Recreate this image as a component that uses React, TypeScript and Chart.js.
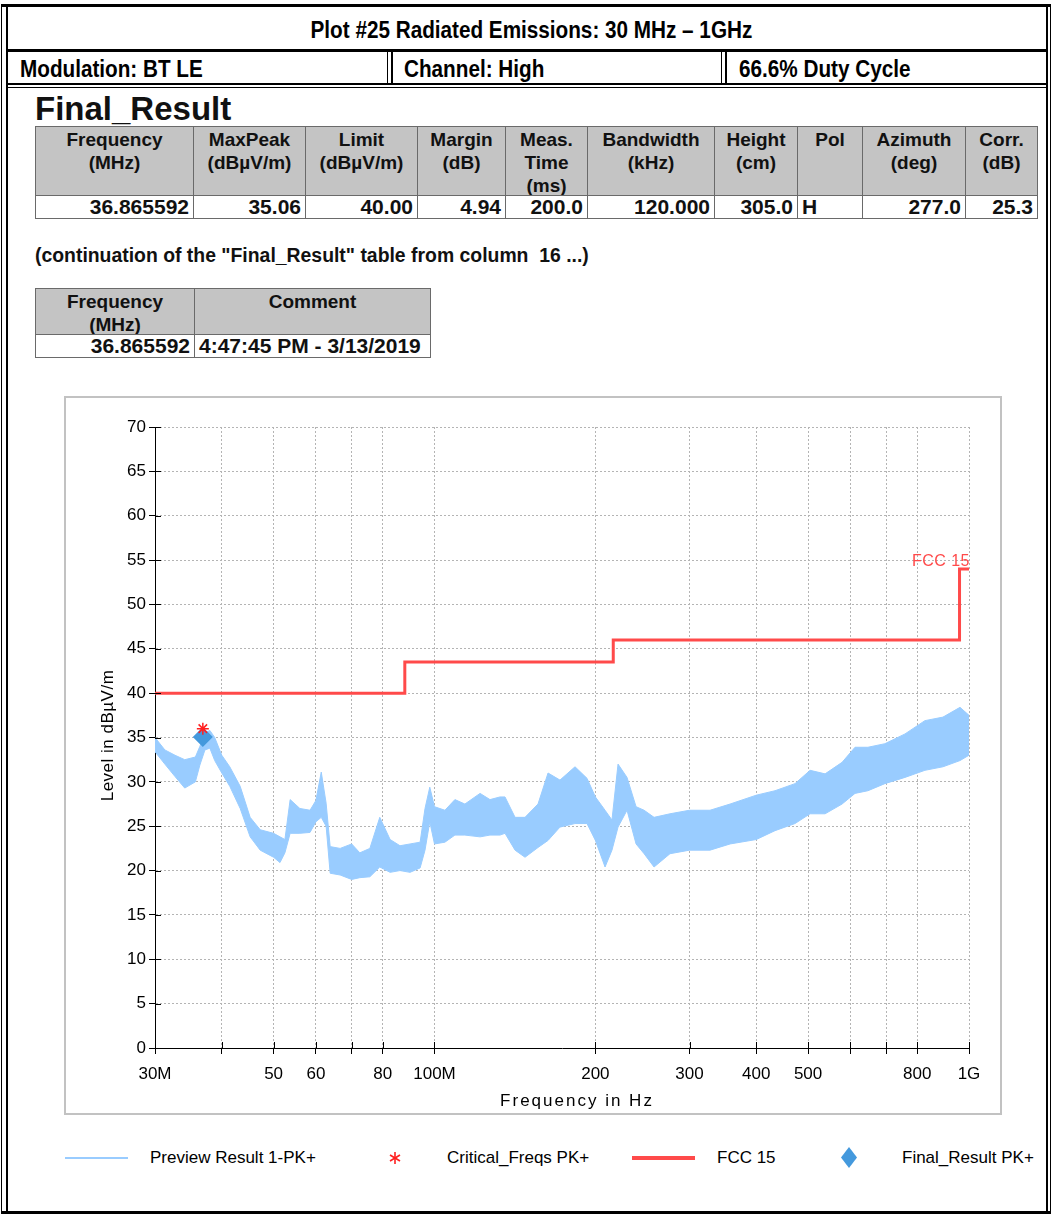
import React, { useEffect, useRef } from 'react';
import { Chart, registerables } from 'chart.js';

Chart.register(...registerables);

// ---------------- data ----------------
const previewFreqMHz = [
  30.0, 31.3, 32.7, 34.1, 35.7, 36.4, 37.2, 38.0, 38.8, 40.0, 41.4, 43.3, 45.2, 47.2, 50.0, 51.4, 52.5,
  53.7, 56.0, 58.5, 60.0, 61.4, 62.7, 63.8, 66.6, 70.0, 72.5, 75.7, 79.0, 82.6, 86.2, 90.0, 94.0, 96.0,
  98.0, 100.0, 104.6, 109.2, 114.0, 121.7, 127.0, 132.6, 135.5, 141.5, 147.7, 156.2, 163.1, 171.7,
  183.2, 192.9, 200.0, 208.5, 214.8, 220.5, 229.2, 238.3, 246.7, 257.5, 275.8, 300.0, 327.7, 357.3,
  400.0, 433.6, 472.6, 504.3, 538.0, 578.8, 612.0, 647.0, 696.0, 759.0, 827.0, 894.0, 962.0, 1000.0,
];
const previewHigh = [
  35.0, 33.6, 33.0, 32.5, 32.8, 34.0, 35.5, 35.8, 35.0, 33.0, 31.7, 29.5, 26.0, 24.6, 24.2, 23.8, 23.5,
  28.0, 27.0, 26.8, 27.9, 31.1, 27.6, 22.7, 22.5, 23.0, 22.0, 22.5, 26.0, 23.5, 22.8, 23.0, 23.2, 27.0,
  29.4, 27.2, 26.8, 28.0, 27.5, 28.7, 28.0, 28.3, 28.3, 26.0, 26.0, 27.5, 31.0, 30.2,
  31.7, 30.4, 28.3, 26.8, 25.7, 32.0, 30.5, 27.2, 26.8, 26.0, 26.4, 26.8, 26.8, 27.5,
  28.5, 29.0, 29.8, 31.3, 30.9, 32.2, 33.9, 33.9, 34.3, 35.4, 36.9, 37.3, 38.4, 37.5,
];
const previewLow = [
  33.4, 32.0, 30.6, 29.3, 30.0, 31.9, 33.6, 33.8, 32.4, 31.0, 29.5, 27.0, 23.8, 22.3, 21.5, 20.9, 22.0,
  24.2, 24.2, 24.3, 25.5, 26.0, 25.0, 19.7, 19.5, 19.0, 19.2, 19.3, 20.4, 19.8, 20.0, 19.8, 20.3, 22.3,
  25.5, 23.0, 23.2, 24.0, 24.0, 23.8, 24.0, 24.0, 24.2, 22.3, 21.5, 22.6, 23.4, 24.9,
  25.3, 25.3, 23.4, 20.4, 22.3, 24.9, 26.8, 23.0, 21.9, 20.4, 21.9, 22.3, 22.3, 23.0,
  23.5, 24.5, 25.3, 26.4, 26.4, 27.5, 28.7, 29.0, 29.8, 30.5, 31.3, 31.7, 32.4, 33.0,
];
const limitFreqMHz = [30, 88, 216, 960, 1000];
const limitLevel = [40, 43.5, 46, 54, 54];
const criticalFreqMHz = [36.865592];
const criticalLevel = [36.0];
const finalFreqMHz = [36.865592];
const finalLevel = [35.06];

const xTickMHz = [30, 40, 50, 60, 70, 80, 100, 200, 300, 400, 500, 600, 700, 800, 1000];
const xTickLabels = ['30M', '', '50', '60', '', '80', '100M', '200', '300', '400', '500', '', '', '800', '1G'];
const yMin = 0;
const yMax = 70;
const yStep = 2.5;
const yLabelEvery = 5;

const titleText = 'Plot #25 Radiated Emissions: 30 MHz \u2013 1GHz';
const infoTexts = ['Modulation: BT LE', 'Channel: High', '66.6% Duty Cycle'];
const table1Headers = ['Frequency\n(MHz)', 'MaxPeak\n(dB\u00b5V/m)', 'Limit\n(dB\u00b5V/m)', 'Margin\n(dB)', 'Meas.\nTime\n(ms)', 'Bandwidth\n(kHz)', 'Height\n(cm)', 'Pol', 'Azimuth\n(deg)', 'Corr.\n(dB)'];
const table1Row = ['36.865592', '35.06', '40.00', '4.94', '200.0', '120.000', '305.0', 'H', '277.0', '25.3'];
const table2Headers = ['Frequency\n(MHz)', 'Comment'];
const table2Row = ['36.865592', '4:47:45 PM - 3/13/2019'];
const xTitle = 'Frequency in Hz';
const yTitle = 'Level in dB\u00b5V/m';
const limitName = 'FCC 15';
const legendNames = ['Preview Result 1-PK+', 'Critical_Freqs PK+', 'FCC 15', 'Final_Result PK+'];

// ---------------- styles ----------------
const PREVIEW = '#99ccff';
const LIMIT = '#ff4a4a';
const FINAL = '#4499dd';
const CRIT = '#ff2020';
const TICK_FONT = "'Liberation Sans', Arial, sans-serif";
const SANS = "'Liberation Sans', Arial, sans-serif";

const CW = 935;
const CH = 716;

function ChartBox() {
  const ref = useRef<HTMLCanvasElement | null>(null);
  useEffect(() => {
    if (!ref.current) return;
    const decor = {
      id: 'decor',
      afterDraw(chart: any) {
        const { ctx, chartArea } = chart;
        const x = chart.scales.x;
        const y = chart.scales.y;
        ctx.save();
        ctx.strokeStyle = '#000';
        ctx.lineWidth = 1;
        ctx.beginPath();
        y.ticks.forEach((t: any) => {
          const py = Math.round(y.getPixelForValue(t.value)) + 0.5;
          ctx.moveTo(chartArea.left, py);
          ctx.lineTo(chartArea.left + 6, py);
        });
        x.ticks.forEach((t: any) => {
          const px = Math.round(x.getPixelForValue(t.value)) + 0.5;
          ctx.moveTo(px, chartArea.bottom);
          ctx.lineTo(px, chartArea.bottom - 6);
        });
        ctx.stroke();
        // limit label
        ctx.fillStyle = LIMIT;
        ctx.font = `16px ${TICK_FONT}`;
        ctx.textAlign = 'right';
        ctx.textBaseline = 'alphabetic';
        (ctx as any).letterSpacing = '0.5px';
        const lx = x.getPixelForValue(limitFreqMHz[limitFreqMHz.length - 1] * 1e6) + 1;
        const ly = y.getPixelForValue(limitLevel[limitLevel.length - 1]) - 3;
        ctx.fillText(limitName, lx, ly);
        // axis titles
        ctx.fillStyle = '#000';
        ctx.font = `17px ${TICK_FONT}`;
        ctx.textAlign = 'center';
        ctx.textBaseline = 'middle';
        (ctx as any).letterSpacing = '2px';
        ctx.fillText(xTitle, (chartArea.left + chartArea.right) / 2 + 15, chartArea.bottom + 53);
        (ctx as any).letterSpacing = '0.5px';
        ctx.translate(43, (chartArea.top + chartArea.bottom) / 2 - 2);
        ctx.rotate(-Math.PI / 2);
        ctx.fillText(yTitle, 0, 0);
        ctx.restore();
      },
    };
    const chart = new Chart(ref.current, {
      type: 'line',
      data: {
        datasets: [
          {
            label: 'Preview upper',
            data: previewFreqMHz.map((f, i) => ({ x: f * 1e6, y: previewHigh[i] })),
            borderColor: PREVIEW,
            borderWidth: 1,
            pointRadius: 0,
            fill: false,
            order: 3,
          },
          {
            label: legendNames[0],
            data: previewFreqMHz.map((f, i) => ({ x: f * 1e6, y: previewLow[i] })),
            borderColor: PREVIEW,
            backgroundColor: PREVIEW,
            borderWidth: 1,
            pointRadius: 0,
            fill: '-1',
            order: 3,
          },
          {
            label: legendNames[2],
            data: limitFreqMHz.map((f, i) => ({ x: f * 1e6, y: limitLevel[i] })),
            borderColor: LIMIT,
            borderWidth: 3,
            pointRadius: 0,
            stepped: 'before',
            fill: false,
            order: 2,
          },
          {
            label: legendNames[3],
            data: finalFreqMHz.map((f, i) => ({ x: f * 1e6, y: finalLevel[i] })),
            showLine: false,
            pointStyle: 'rectRot',
            pointRadius: 10,
            backgroundColor: FINAL,
            borderColor: FINAL,
            borderWidth: 0,
            order: 1,
          },
          {
            label: legendNames[1],
            data: criticalFreqMHz.map((f, i) => ({ x: f * 1e6, y: criticalLevel[i] })),
            showLine: false,
            pointStyle: 'star',
            pointRadius: 6,
            borderColor: CRIT,
            backgroundColor: CRIT,
            borderWidth: 1.5,
            order: 0,
          },
        ] as any,
      },
      options: {
        animation: false,
        responsive: false,
        events: [],
        layout: { padding: { left: 0, right: 31, top: 30, bottom: 0 } },
        plugins: { legend: { display: false }, tooltip: { enabled: false }, title: { display: false } },
        scales: {
          x: {
            type: 'logarithmic',
            min: 30e6,
            max: 1e9,
            afterBuildTicks: (s: any) => {
              s.ticks = xTickMHz.map((v) => ({ value: v * 1e6 }));
            },
            afterFit: (s: any) => {
              s.height = 65;
            },
            ticks: {
              autoSkip: false,
              maxRotation: 0,
              minRotation: 0,
              color: '#000',
              padding: 10,
              font: { family: TICK_FONT, size: 17 },
              callback: (_v: any, i: number) => xTickLabels[i],
            },
            grid: { color: '#b4b4b4', lineWidth: 1, tickColor: '#000', tickLength: 6, drawTicks: true },
            border: { display: true, color: '#000', width: 1, dash: [2, 2] },
          },
          y: {
            type: 'linear',
            min: yMin,
            max: yMax,
            afterFit: (s: any) => {
              s.width = 90;
            },
            ticks: {
              stepSize: yStep,
              color: '#000',
              padding: 3,
              font: { family: TICK_FONT, size: 17 },
              callback: (v: any) => (Number(v) % yLabelEvery === 0 ? String(v) : ''),
            },
            grid: { color: '#b4b4b4', lineWidth: 1, tickColor: '#000', tickLength: 6, drawTicks: true },
            border: { display: true, color: '#000', width: 1, dash: [2, 2] },
          },
        },
      } as any,
      plugins: [decor],
    });
    return () => chart.destroy();
  }, []);
  return <canvas ref={ref} width={CW} height={CH} style={{ position: 'absolute', left: 65, top: 397, width: CW, height: CH }} />;
}

const line = (l: number, t: number, w: number, h: number) => (
  <div style={{ position: 'absolute', left: l, top: t, width: w, height: h, background: '#000' }} />
);

function Table({ left, top, cols, headH, rowH, headers, row, aligns, headSize, rowSize }: any) {
  const cells: any[] = [];
  for (let i = 0; i < cols.length - 1; i++) {
    const l = cols[i];
    const w = cols[i + 1] - cols[i] + 1;
    cells.push(
      <div key={'h' + i} style={{ position: 'absolute', left: l - left, top: 0, width: w, height: headH + 1, boxSizing: 'border-box', border: '1px solid #6a6a6a', background: '#c4c4c4', textAlign: 'center', fontWeight: 'bold', fontSize: headSize, lineHeight: '23px', paddingTop: 1, whiteSpace: 'pre', overflow: 'visible', color: '#111' }}>
        {headers[i]}
      </div>
    );
    cells.push(
      <div key={'r' + i} style={{ position: 'absolute', left: l - left, top: headH, width: w, height: rowH + 1, boxSizing: 'border-box', border: '1px solid #6a6a6a', background: '#fff', textAlign: aligns[i], fontWeight: 'bold', fontSize: rowSize, lineHeight: `${rowH - 1}px`, padding: '0 4px', whiteSpace: 'pre', color: '#111' }}>
        {row[i]}
      </div>
    );
  }
  return <div style={{ position: 'absolute', left, top, fontFamily: SANS }}>{cells}</div>;
}

function LegendRow() {
  const txt = (x: number, s: string) => (
    <div style={{ position: 'absolute', left: x, top: 1148, fontFamily: SANS, fontSize: 17, letterSpacing: '0px', color: '#000', whiteSpace: 'pre' }}>{s}</div>
  );
  return (
    <>
      <div style={{ position: 'absolute', left: 65, top: 1157, width: 63, height: 2, background: PREVIEW }} />
      {txt(150, legendNames[0])}
      <svg style={{ position: 'absolute', left: 388, top: 1151 }} width={14} height={14}>
        <g stroke={CRIT} strokeWidth={1.6}>
          <line x1={7} y1={1} x2={7} y2={13} />
          <line x1={2} y1={4} x2={12} y2={10} />
          <line x1={2} y1={10} x2={12} y2={4} />
        </g>
      </svg>
      {txt(447, legendNames[1])}
      <div style={{ position: 'absolute', left: 632, top: 1156, width: 63, height: 4, background: LIMIT }} />
      {txt(717, legendNames[2])}
      <svg style={{ position: 'absolute', left: 841, top: 1147 }} width={16} height={21}>
        <polygon points="8,0 16,10.5 8,21 0,10.5" fill={FINAL} />
      </svg>
      {txt(902, legendNames[3])}
    </>
  );
}

export default function App() {
  const t1cols = [35, 193, 305, 417, 505, 587, 714, 797, 862, 965, 1037];
  const t1align = ['right', 'right', 'right', 'right', 'right', 'right', 'right', 'left', 'right', 'right'];
  const t2cols = [35, 194, 430];
  return (
    <div style={{ position: 'absolute', left: 0, top: 0, width: 1053, height: 1216, background: '#fff', overflow: 'hidden', fontFamily: SANS }}>
      {/* frame */}
      {line(1, 4, 1050, 3)}
      {line(1, 4, 1, 1210)}
      {line(6, 4, 2, 1210)}
      {line(1046, 4, 2, 1210)}
      {line(1050, 4, 1, 1210)}
      {line(1, 1211, 1050, 3)}
      {line(6, 49, 1042, 3)}
      {line(6, 83, 1042, 2)}
      {line(6, 87, 1042, 1)}
      {line(387, 52, 1, 31)}
      {line(391, 52, 2, 31)}
      {line(721, 52, 1, 31)}
      {line(725, 52, 2, 31)}
      <div style={{ position: 'absolute', left: 12, width: 1038, top: 15, textAlign: 'center', whiteSpace: 'pre' }}>
        <span style={{ display: 'inline-block', fontFamily: SANS, fontWeight: 'bold', fontSize: 23, lineHeight: '30px', transform: 'scaleX(0.9)', transformOrigin: 'center' }}>{titleText}</span>
      </div>
      {[20, 404, 739].map((x, i) => (
        <div key={i} style={{ position: 'absolute', left: x, top: 54, fontFamily: SANS, fontWeight: 'bold', fontSize: 23, lineHeight: '30px', whiteSpace: 'pre', transform: 'scaleX(0.9)', transformOrigin: 'left center' }}>{infoTexts[i]}</div>
      ))}
      <div style={{ position: 'absolute', left: 35, top: 89, fontFamily: SANS, fontWeight: 'bold', fontSize: 33, lineHeight: '39px', color: '#111' }}>Final_Result</div>
      <Table left={35} top={126} cols={t1cols} headH={69} rowH={23} headers={table1Headers} row={table1Row} aligns={t1align} headSize={19} rowSize={21} />
      <div style={{ position: 'absolute', left: 35, top: 243, fontFamily: SANS, fontWeight: 'bold', fontSize: 19.4, lineHeight: '24px', whiteSpace: 'pre', color: '#111' }}>
        (continuation of the "Final_Result" table from column  16 ...)
      </div>
      <Table left={35} top={288} cols={t2cols} headH={46} rowH={23} headers={table2Headers} row={table2Row} aligns={['right', 'left']} headSize={19} rowSize={21} />
      <div style={{ position: 'absolute', left: 64, top: 396, width: 938, height: 719, boxSizing: 'border-box', border: '2px solid #c2c2c2' }} />
      <ChartBox />
      <LegendRow />
    </div>
  );
}
